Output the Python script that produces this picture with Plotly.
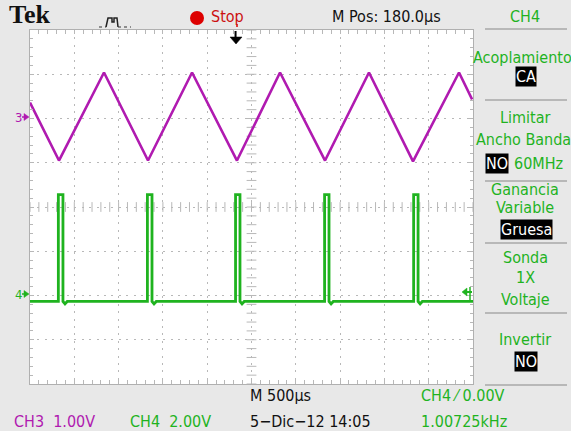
import numpy as np
import plotly.graph_objects as go

# CH3: triangle wave, time in microseconds from the left edge of the screen, volts
ch3_time_us = [0, 327, 835, 1332, 1829, 2336, 2822, 3330, 3826, 4323, 4842, 4990]
ch3_volts = [0.36, -0.95, 1.04, -0.95, 1.04, -0.95, 1.04, -0.95, 1.04, -0.97, 1.04, 0.43]

# CH4: pulse train (rising edge / top / falling edge / undershoot)
ch4_time_us = [0, 320, 320, 372, 372, 395, 420,
               1325, 1325, 1377, 1377, 1400, 1425,
               2320, 2320, 2370, 2370, 2393, 2418,
               3325, 3325, 3375, 3375, 3398, 3423,
               4330, 4330, 4380, 4380, 4403, 4428, 5000]
ch4_volts = [-0.27, -0.27, 4.56, 4.56, -0.27, -0.38, -0.27,
             -0.27, 4.56, 4.56, -0.27, -0.38, -0.27,
             -0.27, 4.56, 4.56, -0.27, -0.38, -0.27,
             -0.27, 4.56, 4.56, -0.27, -0.38, -0.27,
             -0.27, 4.56, 4.56, -0.27, -0.38, -0.27, -0.27]

time_per_div_us = 500
ch3_volts_per_div = 1.0
ch4_volts_per_div = 2.0
trigger_time_us = 2320

# ---------------- style ----------------
W, H = 571, 431
L, R, T, B = 30, 98, 30, 47
PW, PH = W - L - R, H - T - B
PURPLE = "#b01ab0"
GREEN = "#1fb31f"
GRID = "#b8b8b8"
BG = "#e8e8e8"
FONT = "Liberation Sans Narrow, DejaVu Sans Condensed, Arial Narrow, sans-serif"
FS = 16


def px(x):
    return (x - L) / PW


def py(y):
    return (T + PH - y) / PH


fig = go.Figure()

# graticule: centre-line minor ticks
cx = np.arange(0, 5001, time_per_div_us / 5)
fig.add_trace(go.Scatter(x=cx, y=[-2] * len(cx), mode="markers", hoverinfo="skip",
                         marker=dict(symbol="line-ns", size=7, line=dict(color=GRID, width=1))))
cy = np.arange(-6, 2.001, ch3_volts_per_div / 5)
fig.add_trace(go.Scatter(x=[2500] * len(cy), y=cy, mode="markers", hoverinfo="skip",
                         marker=dict(symbol="line-ew", size=7, line=dict(color=GRID, width=1))))

fig.add_trace(go.Scatter(x=ch3_time_us, y=ch3_volts, mode="lines",
                         line=dict(color=PURPLE, width=2.6), yaxis="y"))
fig.add_trace(go.Scatter(x=ch4_time_us, y=ch4_volts, mode="lines",
                         line=dict(color=GREEN, width=2.8), yaxis="y2"))

axis_common = dict(showticklabels=False, showline=True, linecolor="#b0b0b0", linewidth=1,
                   mirror="allticks", ticks="inside", ticklen=4, tickcolor=GRID,
                   showgrid=True, gridcolor=GRID, griddash="2px,5.4px", gridwidth=1,
                   zeroline=False, fixedrange=True)

fig.update_layout(
    width=W, height=H,
    margin=dict(l=L, r=R, t=T, b=B),
    paper_bgcolor=BG, plot_bgcolor="white",
    showlegend=False,
    xaxis=dict(range=[0, 5000], tick0=0, dtick=time_per_div_us,
               minor=dict(dtick=time_per_div_us / 5, ticks="inside", ticklen=3,
                          tickcolor=GRID, showgrid=False), **axis_common),
    yaxis=dict(range=[-6, 2], tick0=-6, dtick=ch3_volts_per_div,
               minor=dict(dtick=ch3_volts_per_div / 5, ticks="inside", ticklen=3,
                          tickcolor=GRID, showgrid=False), **axis_common),
    yaxis2=dict(range=[-4, 12], overlaying="y", showgrid=False, showticklabels=False,
                zeroline=False, showline=False, ticks="", fixedrange=True),
)

anns = []


def text(s, x, y, color="#111111", size=FS, xanchor="center", family=FONT, bg=None):
    d = dict(text=s, x=px(x), y=py(y), xref="paper", yref="paper", showarrow=False,
             xanchor=xanchor, yanchor="middle", font=dict(family=family, size=size, color=color))
    if bg:
        d.update(bgcolor=bg, borderpad=0)
    anns.append(d)


# header
text("<b>Tek</b>", 7, 15, size=26, xanchor="left", family="Liberation Serif, serif")
text("Stop", 209, 17, color="#cc1010", xanchor="left")
text("M Pos: 180.0µs", 386, 17)
text("CH4", 525, 17, color=GREEN)

# right menu
text("Acoplamiento", 522, 57, color=GREEN)
text("CA", 526, 76, color="white", bg="black")
text("Limitar", 525, 117, color=GREEN)
text("Ancho Banda", 523, 139, color=GREEN)
text("NO", 497, 164, color="white", bg="black")
text("60MHz", 512, 164, color=GREEN, xanchor="left")
text("Ganancia", 525, 189, color=GREEN)
text("Variable", 525, 208, color=GREEN)
text("Gruesa", 526, 229, color="white", bg="black")
text("Sonda", 525, 257, color=GREEN)
text("1X", 525, 277, color=GREEN)
text("Voltaje", 525, 299, color=GREEN)
text("Invertir", 525, 339, color=GREEN)
text("NO", 526, 361, color="white", bg="black")

# bottom status
text("M 500µs", 248, 395, xanchor="left")
text("CH4 ⁄ 0.00V", 419, 395, color=GREEN, xanchor="left")
text("CH3\u00a0\u00a01.00V", 12, 421, color=PURPLE, xanchor="left")
text("CH4\u00a0\u00a02.00V", 128, 421, color=GREEN, xanchor="left")
text("5−Dic−12 14:05", 248, 421, xanchor="left")
text("1.00725kHz", 419, 421, color=GREEN, xanchor="left")

# ground markers
text("3", 18, 117, color=PURPLE, size=13)
text("4", 18, 294, color=GREEN, size=13)

fig.update_layout(annotations=anns)

shapes = []
# menu separators
for yy in [29, 100, 181, 243, 313, 385]:
    shapes.append(dict(type="line", xref="paper", yref="paper", x0=px(485), x1=px(567),
                       y0=py(yy), y1=py(yy), line=dict(color="#a8a8a8", width=1.5)))
# red stop dot
shapes.append(dict(type="circle", xref="paper", yref="paper", x0=px(190), x1=px(204),
                   y0=py(25), y1=py(11), fillcolor="#dd0000", line=dict(color="#dd0000", width=0)))
# trigger-type icon
shapes.append(dict(type="path", xref="paper", yref="paper",
                   path=f"M{px(106)},{py(27)} L{px(108)},{py(18)} L{px(112)},{py(18)} L{px(112)},{py(22)} "
                        f"L{px(114)},{py(22)} L{px(114)},{py(18)} L{px(117)},{py(18)} L{px(118)},{py(27)}",
                   line=dict(color="#222222", width=1.5)))
for a, b in [(99, 106), (118, 131)]:
    shapes.append(dict(type="line", xref="paper", yref="paper", x0=px(a), x1=px(b),
                       y0=py(27), y1=py(27), line=dict(color="#333333", width=1.2, dash="dot")))
# trigger position arrow (black) and red mark
shapes.append(dict(type="line", xref="x", yref="paper", x0=trigger_time_us, x1=trigger_time_us,
                   y0=py(31), y1=py(38), line=dict(color="black", width=2)))
shapes.append(dict(type="path", xref="paper", yref="paper",
                   path=f"M{px(230)},{py(37)} L{px(242)},{py(37)} L{px(236)},{py(44)} Z",
                   fillcolor="black", line=dict(color="black", width=0.5)))
shapes.append(dict(type="line", xref="paper", yref="paper", x0=px(237), x1=px(237),
                   y0=py(24), y1=py(27), line=dict(color="#dd0000", width=1.5)))
# ground markers arrows
for yy, c in [(117, PURPLE), (294, GREEN)]:
    shapes.append(dict(type="path", xref="paper", yref="paper",
                       path=f"M{px(24)},{py(yy - 3.5)} L{px(29)},{py(yy)} L{px(24)},{py(yy + 3.5)} Z",
                       fillcolor=c, line=dict(color=c, width=0.5)))
    shapes.append(dict(type="line", xref="paper", yref="paper", x0=px(22), x1=px(27),
                       y0=py(yy), y1=py(yy), line=dict(color=c, width=1.5)))
# CH4 trigger level arrow at right edge
shapes.append(dict(type="path", xref="paper", yref="paper",
                   path=f"M{px(462)},{py(292)} L{px(467)},{py(288)} L{px(467)},{py(296)} Z",
                   fillcolor=GREEN, line=dict(color=GREEN, width=0.5)))
shapes.append(dict(type="line", xref="paper", yref="paper", x0=px(465), x1=px(472),
                   y0=py(292), y1=py(292), line=dict(color=GREEN, width=2)))
shapes.append(dict(type="line", xref="paper", yref="paper", x0=px(470), x1=px(470),
                   y0=py(287), y1=py(300), line=dict(color=GREEN, width=1.5)))

fig.update_layout(shapes=shapes)
fig.write_html("out.html", config={"displayModeBar": False},
               post_script="document.body.style.margin='0';document.body.style.overflow='hidden';")
